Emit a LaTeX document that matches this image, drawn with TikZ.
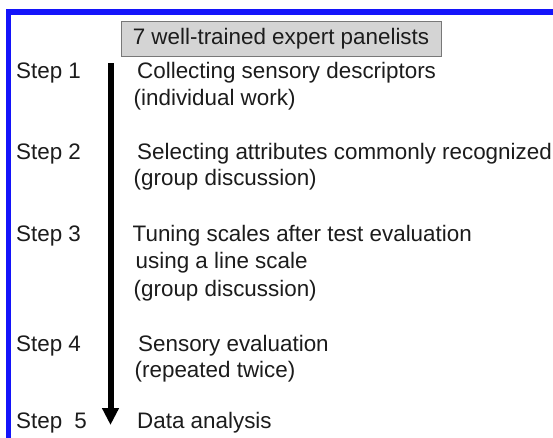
\documentclass[tikz,border=0pt]{standalone}
\usepackage{fontspec}
\setmainfont{Liberation Sans}
\usetikzlibrary{arrows.meta}
\definecolor{framecol}{RGB}{20,20,250}
\definecolor{inkcol}{RGB}{28,28,28}
\definecolor{boxfill}{RGB}{212,212,212}
\definecolor{boxline}{RGB}{120,120,120}
\begin{document}
\begin{tikzpicture}[x=1pt,y=-1pt,
  every node/.style={font=\fontsize{22.4}{26}\selectfont, text=inkcol},
  steplabel/.style={anchor=base west, inner sep=0pt},
  stepline/.style={anchor=base west, inner sep=0pt},
  headbox/.style={draw=boxline, line width=1pt, fill=boxfill, inner sep=0pt,
    minimum width=320pt, minimum height=35pt},
  flow/.style={line width=6pt, -{Triangle[width=16pt,length=17pt]}}]
  \useasboundingbox (0,0) rectangle (553,437);
  \fill[white] (0,0) rectangle (553,437);

  % blue frame (top and left edges)
  \draw[framecol, line width=5.5pt, line join=miter]
    (8.5,440) -- (8.5,12) -- (556,12);

  % heading box
  \node[headbox] (panel) at (281,38.5) {7 well-trained expert panelists};

  % step labels
  \node[steplabel] (s1) at (16,78)  {Step 1};
  \node[steplabel] (s2) at (16,159) {Step 2};
  \node[steplabel] (s3) at (16,241) {Step 3};
  \node[steplabel] (s4) at (16,351) {Step 4};
  \node[steplabel] (s5) at (16,428) {Step\hspace{12pt}5};

  % step descriptions
  \node[stepline] (d1a) at (137,78)    {Collecting sensory descriptors};
  \node[stepline] (d1b) at (133.5,105) {(individual work)};
  \node[stepline] (d2a) at (137,159)   {Selecting attributes commonly recognized};
  \node[stepline] (d2b) at (133.5,185) {(group discussion)};
  \node[stepline] (d3a) at (132.5,241) {Tuning scales after test evaluation};
  \node[stepline] (d3b) at (135.5,268) {using a line scale};
  \node[stepline] (d3c) at (133.5,296) {(group discussion)};
  \node[stepline] (d4a) at (138,351)   {Sensory evaluation};
  \node[stepline] (d4b) at (134.5,377) {(repeated twice)};
  \node[stepline] (d5a) at (137,428)   {Data analysis};

  % downward flow arrow
  \coordinate (flowtop) at (110.5,63);
  \coordinate (flowend) at (110.5,425);
  \draw[flow] (flowtop) -- (flowend);
\end{tikzpicture}
\end{document}
